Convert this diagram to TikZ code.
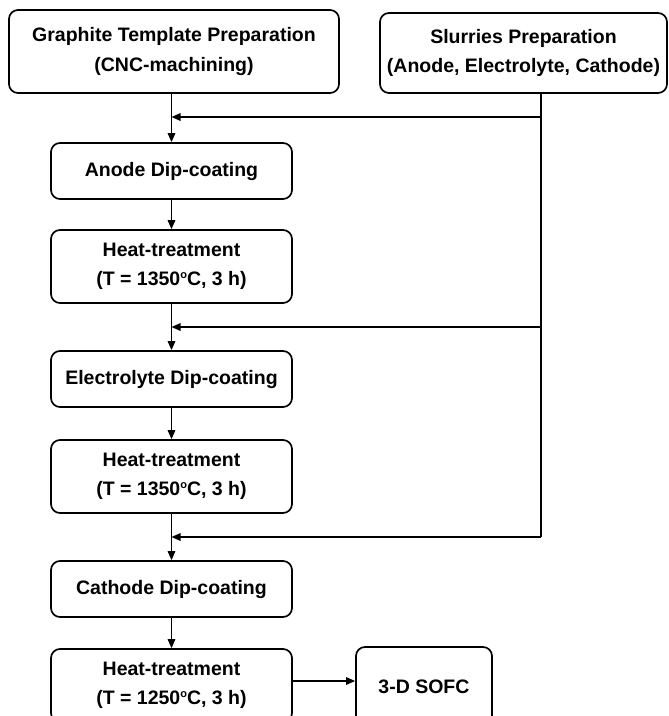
\documentclass[tikz,border=0pt]{standalone}
\usepackage{fontspec}
\setmainfont{Liberation Sans}
\usetikzlibrary{arrows.meta}
\newcommand{\degsup}{\raisebox{0.75ex}{\fontsize{11}{11}\selectfont o}}
\tikzset{
  box/.style={draw, line width=1.7pt, rounded corners=9pt, align=center, inner sep=0pt,
    font=\bfseries\fontsize{19.5}{29.5}\selectfont},
  conn/.style={line width=1.5pt},
  arr/.style={conn, -{Triangle[length=9pt,width=7.5pt]}}
}
\begin{document}
\begin{tikzpicture}[x=1pt,y=-1pt]
\useasboundingbox (0,0) rectangle (669,716);
\clip (0,0) rectangle (669,716);
\node[box, minimum width=330pt, minimum height=83pt] (g) at (174,51.5)
  {Graphite Template Preparation\\(CNC-machining)};
\node[box, minimum width=287pt, minimum height=80pt] (s) at (523.5,53)
  {Slurries Preparation\\(Anode, Electrolyte, Cathode)};
\node[box, minimum width=241pt, minimum height=56pt] (an) at (171.5,171) {Anode Dip-coating};
\node[box, minimum width=241pt, minimum height=73pt] (h1) at (171.5,266.5)
  {Heat-treatment\\(T = 1350\degsup C, 3 h)};
\node[box, minimum width=241pt, minimum height=56pt] (el) at (171.5,379) {Electrolyte Dip-coating};
\node[box, minimum width=241pt, minimum height=73pt] (h2) at (171.5,476.5)
  {Heat-treatment\\(T = 1350\degsup C, 3 h)};
\node[box, minimum width=241pt, minimum height=56pt] (ca) at (171.5,589) {Cathode Dip-coating};
\node[box, minimum width=241pt, minimum height=73pt] (h3) at (171.5,685.5)
  {Heat-treatment\\(T = 1250\degsup C, 3 h)};
\node[box, minimum width=136pt, minimum height=80pt] (so) at (424,687) {3-D SOFC};
\coordinate (j1) at (541,117);
\coordinate (j2) at (541,327);
\coordinate (j3) at (541,537);
% main chain
\draw[arr] (an.north |- g.south) -- (an.north);
\draw[arr] (h1.north |- an.south) -- (h1.north);
\draw[arr] (el.north |- h1.south) -- (el.north);
\draw[arr] (h2.north |- el.south) -- (h2.north);
\draw[arr] (ca.north |- h2.south) -- (ca.north);
\draw[arr] (h3.north |- ca.south) -- (h3.north);
% slurry feed
\draw[conn] (j1 |- s.south) -- (j3);
\draw[arr] (j1) -- (j1 -| an.north);
\draw[arr] (j2) -- (j2 -| el.north);
\draw[arr] (j3) -- (j3 -| ca.north);
% output
\draw[arr] ([yshift=4.5pt]h3.east) -- ([yshift=4.5pt]h3.east -| so.west);
\end{tikzpicture}
\end{document}
